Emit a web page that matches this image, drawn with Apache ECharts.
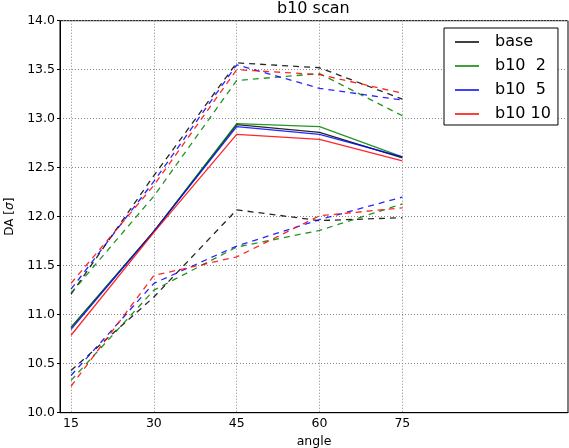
<!DOCTYPE html>
<html>
<head>
<meta charset="utf-8">
<script src="https://cdn.jsdelivr.net/npm/echarts@6/dist/echarts.min.js"></script>
<style>html,body{margin:0;padding:0;background:#fff;}#c{width:569px;height:448px;}</style>
</head>
<body>
<div id="c"></div>
<script>
const angles = [15, 30, 45, 60, 75];
const xTicks = [15, 30, 45, 60, 75];
const legendNames = ['base', 'b10  2', 'b10  5', 'b10 10'];

const baseMid = [10.87, 11.85, 12.94, 12.86, 12.60];
const baseHi  = [11.21, 12.42, 13.57, 13.52, 13.20];
const baseLo  = [10.43, 11.18, 12.07, 11.96, 11.99];

const b2Mid = [10.87, 11.85, 12.95, 12.92, 12.61];
const b2Hi  = [11.22, 12.21, 13.39, 13.46, 13.03];
const b2Lo  = [10.33, 11.25, 11.69, 11.86, 12.13];

const b5Mid = [10.85, 11.85, 12.92, 12.84, 12.61];
const b5Hi  = [11.26, 12.36, 13.55, 13.31, 13.19];
const b5Lo  = [10.38, 11.32, 11.70, 11.97, 12.20];

const b10Mid = [10.79, 11.84, 12.84, 12.79, 12.57];
const b10Hi  = [11.32, 12.32, 13.50, 13.45, 13.26];
const b10Lo  = [10.27, 11.40, 11.59, 12.01, 12.09];

const groups = [
  {name: legendNames[0], color: '#000000', mid: baseMid, hi: baseHi, lo: baseLo},
  {name: legendNames[1], color: '#008000', mid: b2Mid, hi: b2Hi, lo: b2Lo},
  {name: legendNames[2], color: '#0000ff', mid: b5Mid, hi: b5Hi, lo: b5Lo},
  {name: legendNames[3], color: '#ff0000', mid: b10Mid, hi: b10Hi, lo: b10Lo}
];

const FONT = 'DejaVu Sans';
const series = [];
groups.forEach(g => {
  const mk = (name, vals, dashed) => ({
    name: name,
    type: 'line',
    data: angles.map((a, i) => [a, vals[i]]),
    showSymbol: false,
    symbol: 'none',
    color: g.color,
    lineStyle: {color: g.color, width: 1.3, opacity: 0.85, type: dashed ? [6, 5] : 'solid'},
    emphasis: {disabled: true},
    animation: false,
    z: dashed ? 2 : 3
  });
  series.push(mk(g.name, g.mid, false));
  series.push(mk(g.name + ' hi', g.hi, true));
  series.push(mk(g.name + ' lo', g.lo, true));
});

const chart = echarts.init(document.getElementById('c'), null, {renderer: 'canvas'});
chart.setOption({
  backgroundColor: '#fff',
  animation: false,
  textStyle: {fontFamily: FONT},
  title: {
    text: 'b10 scan', left: 277, top: 1, padding: 0,
    textStyle: {fontFamily: FONT, fontSize: 16, fontWeight: 'normal', color: '#000'}
  },
  grid: {
    left: 60, top: 20.7, right: 1, bottom: 35.3,
    outerBoundsMode: 'none', containLabel: false,
    show: true, borderColor: '#000', borderWidth: 1, backgroundColor: 'transparent'
  },
  legend: {
    data: legendNames,
    orient: 'vertical',
    left: 444, top: 28,
    padding: [5, 7, 2, 11],
    itemGap: 6,
    itemWidth: 24, itemHeight: 2,
    icon: 'rect',
    borderColor: '#000', borderWidth: 1,
    backgroundColor: '#fff',
    selectedMode: false,
    itemStyle: {opacity: 0.75},
    textStyle: {fontFamily: FONT, fontSize: 16, color: '#000', lineHeight: 18, padding: [0, 0, 0, 11]}
  },
  xAxis: {
    type: 'value', min: 13, max: 105,
    name: 'angle', nameLocation: 'middle', nameGap: 21,
    nameTextStyle: {fontFamily: FONT, fontSize: 12.5, color: '#000'},
    axisLine: {show: true, lineStyle: {color: '#000', width: 1}},
    axisTick: {show: false, customValues: xTicks},
    axisLabel: {customValues: xTicks, fontFamily: FONT, fontSize: 12.5, color: '#000', margin: 5},
    splitLine: {show: true, lineStyle: {color: '#888', width: 1, type: [1, 2]}}
  },
  yAxis: {
    type: 'value', min: 10, max: 14, interval: 0.5,
    name: 'DA {s|[}{i|σ}{s|]}', nameLocation: 'middle', nameGap: 42, nameRotate: 90,
    nameTextStyle: {fontFamily: FONT, fontSize: 12, color: '#000',
      rich: {s: {fontFamily: FONT, fontSize: 12, color: '#000'}, i: {fontFamily: FONT, fontSize: 12, fontStyle: 'italic', color: '#000'}}},
    axisLine: {show: true, lineStyle: {color: '#000', width: 1}},
    axisTick: {show: true, inside: false, length: 3, lineStyle: {color: '#000'}},
    axisLabel: {fontFamily: FONT, fontSize: 12.5, color: '#000', margin: 5, formatter: v => v.toFixed(1)},
    splitLine: {show: true, lineStyle: {color: '#888', width: 1, type: [1, 2]}}
  },
  series: series
});
</script>
</body>
</html>
